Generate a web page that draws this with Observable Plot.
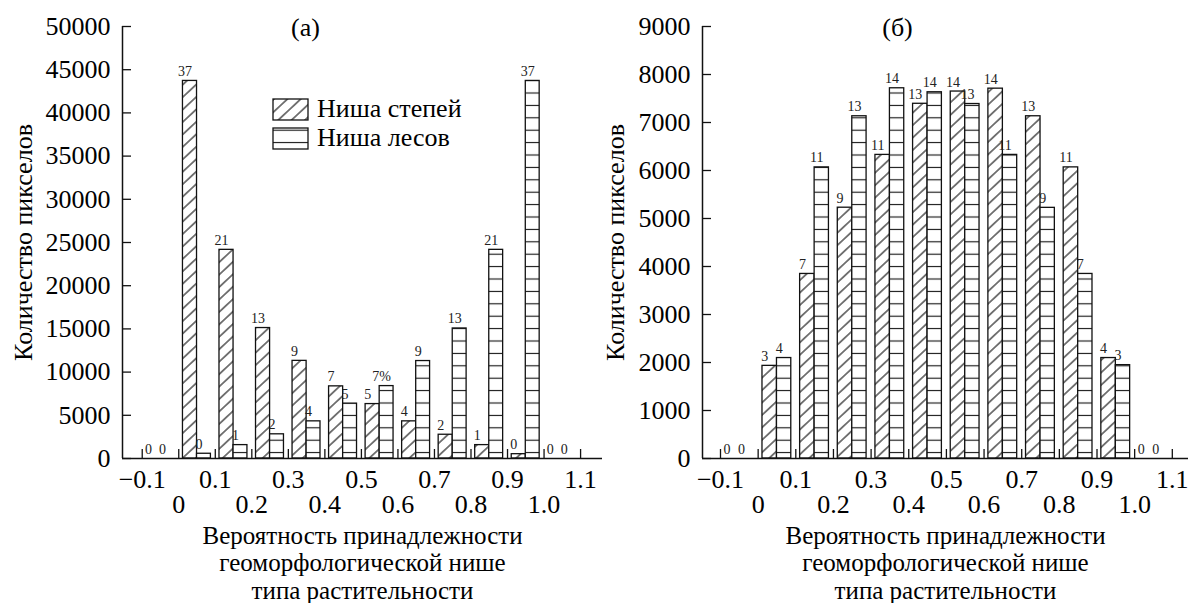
<!DOCTYPE html>
<html><head><meta charset="utf-8">
<script src="https://cdn.jsdelivr.net/npm/d3@7"></script>
<script src="https://cdn.jsdelivr.net/npm/@observablehq/plot@0.6"></script>
<style>
body{margin:0;background:#fff;}
#wrap{position:relative;width:1188px;height:603px;overflow:hidden;font-family:"Liberation Serif",serif;}
.panel{position:absolute;top:0;}
#legend{position:absolute;left:0;top:0;}
</style></head>
<body><div id="wrap"><div id="pa" class="panel" style="left:0"></div><div id="pb" class="panel" style="left:600px"></div><svg id="legend" width="600" height="200"></svg></div>
<script>
// ---- data ----
const binStarts = [-0.1, 0, 0.1, 0.2, 0.3, 0.4, 0.5, 0.6, 0.7, 0.8, 0.9, 1.0];
const steppeCountsA = [0, 43700, 24150, 15100, 11300, 8350, 6300, 4300, 2750, 1550, 500, 0];
const forestCountsA = [0, 550, 1550, 2800, 4300, 6350, 8380, 11280, 15050, 24150, 43700, 0];
const steppeLabelsA = ["0", "37", "21", "13", "9", "7", "5", "4", "2", "1", "0", "0"];
const forestLabelsA = ["0", "0", "1", "2", "4", "5", "7%", "9", "13", "21", "37", "0"];
const steppeCountsB = [0, 1930, 3845, 5225, 6325, 7390, 7645, 7705, 7130, 6065, 2093, 0];
const forestCountsB = [0, 2093, 6065, 7130, 7713, 7630, 7385, 6325, 5222, 3845, 1945, 0];
const steppeLabelsB = ["0", "3", "7", "9", "11", "13", "14", "14", "13", "11", "4", "0"];
const forestLabelsB = ["0", "4", "11", "13", "14", "14", "13", "11", "9", "7", "3", "0"];
const xTicks = [-0.1, 0, 0.1, 0.2, 0.3, 0.4, 0.5, 0.6, 0.7, 0.8, 0.9, 1.0, 1.1];
const xTickLabels = ["\u22120.1", "0", "0.1", "0.2", "0.3", "0.4", "0.5", "0.6", "0.7", "0.8", "0.9", "1.0", "1.1"];
const yTicksA = [0, 5000, 10000, 15000, 20000, 25000, 30000, 35000, 40000, 45000, 50000];
const yTicksB = [0, 1000, 2000, 3000, 4000, 5000, 6000, 7000, 8000, 9000];
const seriesNames = ["Ниша степей", "Ниша лесов"];
const yTitle = "Количество пикселов";
const xTitle = "Вероятность принадлежности\nгеоморфологической нише\nтипа растительности";
const panelTitles = ["(а)", "(б)"];

const FONT = '"Liberation Serif", "Times New Roman", serif';
const FS = 26;

function addPatterns(svg, id) {
  const defs = d3.select(svg).insert("defs", ":first-child");
  const s = 9.1;
  const h = defs.append("pattern").attr("id", "hatch-" + id).attr("patternUnits", "userSpaceOnUse")
    .attr("width", 20).attr("height", s).attr("patternTransform", "rotate(-43)");
  h.append("rect").attr("width", 20).attr("height", s).attr("fill", "#fff");
  h.append("line").attr("x1", 0).attr("x2", 20).attr("y1", s / 2).attr("y2", s / 2)
    .attr("stroke", "#111").attr("stroke-width", 1.1);
  const l = defs.append("pattern").attr("id", "lines-" + id).attr("patternUnits", "userSpaceOnUse")
    .attr("width", 10).attr("height", 12.4);
  l.append("rect").attr("width", 10).attr("height", 12.4).attr("fill", "#fff");
  l.append("line").attr("x1", 0).attr("x2", 10).attr("y1", 6.2).attr("y2", 6.2)
    .attr("stroke", "#111").attr("stroke-width", 1.1);
}

function makePanel({id, steppe, forest, sLab, fLab, yTicks, yMax, width, marginLeft, marginRight, xDomain, title, titleDx, yTitleDx}) {
  const rows = binStarts.flatMap((x0, i) => [
    {s: 0, x0, v: steppe[i], label: sLab[i]},
    {s: 1, x0, v: forest[i], label: fLab[i]}
  ]);
  const off = [[0.0115, 0.05], [0.05, 0.088]];
  const bx1 = d => d.x0 + off[d.s][0];
  const bx2 = d => d.x0 + off[d.s][1];
  const row1 = xTicks.filter((d, i) => i % 2 === 0);
  const row2 = xTicks.filter((d, i) => i % 2 === 1);
  const fmt = d => xTickLabels[Math.round((d + 0.1) * 10)];
  const svg = Plot.plot({
    width, height: 603,
    marginLeft, marginRight, marginTop: 26, marginBottom: 145,
    x: {domain: xDomain, axis: null},
    y: {domain: [0, yMax], axis: null},
    style: {fontFamily: FONT, fontSize: FS + "px", color: "#000", background: "transparent", overflow: "visible"},
    marks: [
      Plot.rect(rows.filter(d => d.s === 0 && d.v > 0), {x1: bx1, x2: bx2, y1: 0, y2: "v", fill: `url(#hatch-${id})`, stroke: "#111", strokeWidth: 1.3}),
      Plot.rect(rows.filter(d => d.s === 1 && d.v > 0), {x1: bx1, x2: bx2, y1: 0, y2: "v", fill: `url(#lines-${id})`, stroke: "#111", strokeWidth: 1.3}),
      Plot.text(rows, {x: d => (bx1(d) + bx2(d)) / 2, y: "v", text: "label", dx: -5, dy: -5, lineAnchor: "bottom", fontSize: 14, fill: "#222"}),
      Plot.ruleY([0], {stroke: "#111", strokeWidth: 1.5}),
      Plot.ruleX([xDomain[0]], {stroke: "#111", strokeWidth: 1.5}),
      Plot.ruleX(xTicks, {x: d => d, y1: 0, y2: 0, insetTop: -9, stroke: "#111", strokeWidth: 1.3}),
      Plot.ruleY(yTicks, {y: d => d, x1: xDomain[0], x2: xDomain[0], insetRight: -9, stroke: "#111", strokeWidth: 1.3}),
      Plot.axisY(yTicks, {tickSize: 0, tickPadding: 12, label: null, fontSize: FS, tickFormat: d => String(d)}),
      Plot.axisX(row1, {tickSize: 0, tickPadding: 11.5, label: null, fontSize: FS, tickFormat: fmt}),
      Plot.axisX(row2, {tickSize: 0, tickPadding: 36.5, label: null, fontSize: FS, tickFormat: fmt}),
      Plot.text([yTitle], {frameAnchor: "left", rotate: -90, dx: yTitleDx, fontSize: FS, textAnchor: "middle", lineAnchor: "middle"}),
      Plot.text([xTitle], {frameAnchor: "bottom", lineAnchor: "top", textAnchor: "middle", dy: 65.3, lineHeight: 1.11, fontSize: 25}),
      Plot.text([title], {frameAnchor: "top-left", textAnchor: "middle", lineAnchor: "bottom", dx: titleDx, dy: 9, fontSize: FS})
    ]
  });
  addPatterns(svg, id);
  return svg;
}

document.getElementById("pa").append(makePanel({
  id: "a", steppe: steppeCountsA, forest: forestCountsA, sLab: steppeLabelsA, fLab: forestLabelsA,
  yTicks: yTicksA, yMax: 50000, width: 604, marginLeft: 122, marginRight: 2,
  xDomain: [-0.154, 1.160], title: panelTitles[0], titleDx: 183, yTitleDx: -99
}));
document.getElementById("pb").append(makePanel({
  id: "b", steppe: steppeCountsB, forest: forestCountsB, sLab: steppeLabelsB, fLab: forestLabelsB,
  yTicks: yTicksB, yMax: 9000, width: 588, marginLeft: 102, marginRight: 0,
  xDomain: [-0.1478, 1.143], title: panelTitles[1], titleDx: 195, yTitleDx: -87
}));

// legend
const leg = d3.select("#legend");
const swatch = [["hatch-a", 99, 117], ["lines-a", 128, 146]];
swatch.forEach(([pat, top, base], i) => {
  leg.append("rect").attr("x", 273).attr("y", top).attr("width", 35).attr("height", 21)
    .attr("fill", `url(#${pat})`).attr("stroke", "#111").attr("stroke-width", 1.3);
  leg.append("text").attr("x", 317).attr("y", base).attr("font-family", FONT).attr("font-size", FS)
    .attr("fill", "#000").text(seriesNames[i]);
});
</script>
</body></html>
